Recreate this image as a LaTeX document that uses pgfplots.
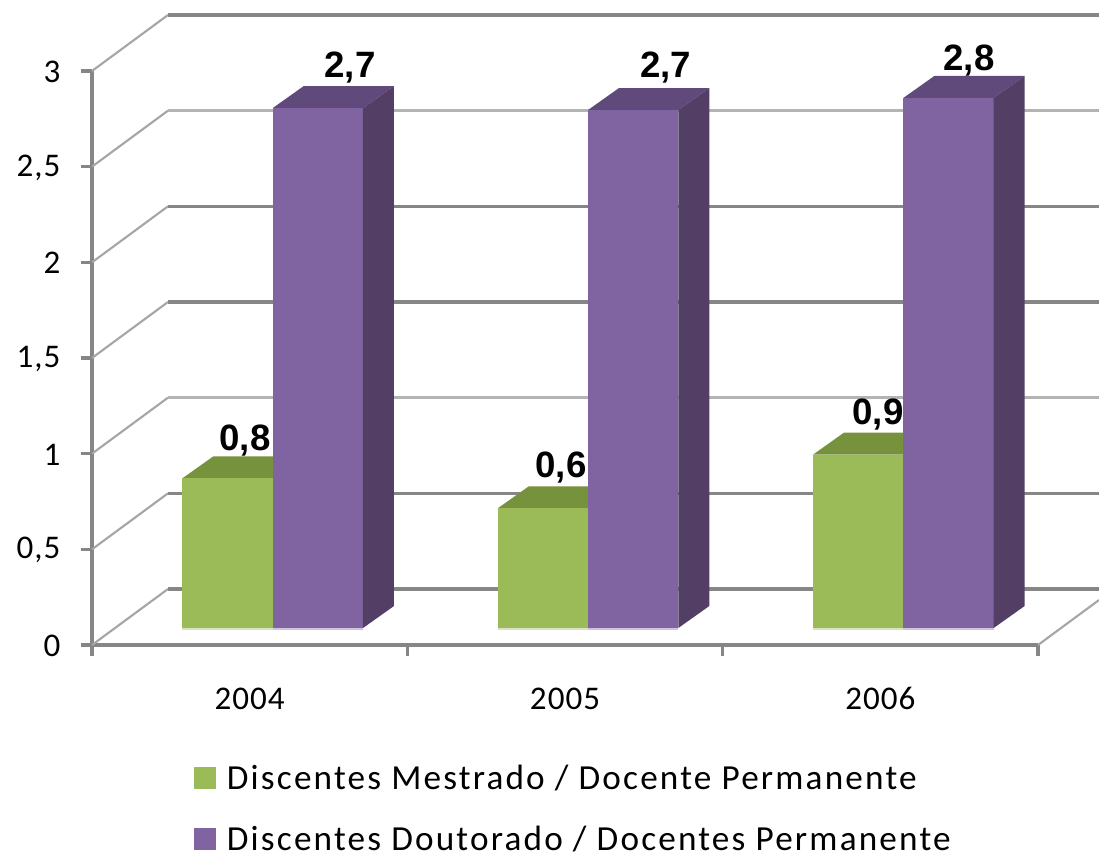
\documentclass[border=0pt]{standalone}
\usepackage{fontspec}
\setmainfont{Carlito}
\newfontfamily\lab{Liberation Sans}
\newfontfamily\leg{Carlito}[LetterSpace=6.2]
\newfontfamily\tk{Carlito}[LetterSpace=3]
\usepackage{pgfplots}
\pgfplotsset{compat=1.18}
\definecolor{gr}{HTML}{9BBB59}
\definecolor{grtop}{HTML}{76923C}
\definecolor{grline}{HTML}{D8E3BF}
\definecolor{pu}{HTML}{8064A2}
\definecolor{putop}{HTML}{604A7B}
\definecolor{puside}{HTML}{533F65}
\definecolor{puline}{HTML}{CFC4DC}
\definecolor{ax}{HTML}{868686}
\definecolor{axl}{HTML}{B4B4B4}
\definecolor{diag}{HTML}{A6A6A6}
% x0 x1 : front-face edges in category units; value; colours
\newcommand{\barfront}[5]{%
  \pgfmathsetmacro\tv{#3+0.0888}%
  \pgfmathsetmacro\bx{#1+0.0983}\pgfmathsetmacro\cx{#2+0.0983}%
  \pgfmathsetmacro\tb{#3+0.0888+0.115}%
  \addplot[fill=#5,draw=none,forget plot,mark=none] coordinates {(#1,\tv)(\bx,\tb)(\cx,\tb)(#2,\tv)} -- cycle;
  \addplot[fill=#4,draw=none,forget plot,mark=none] coordinates {(#1,0.0888)(#1,\tv)(#2,\tv)(#2,0.0888)} -- cycle;
}
\newcommand{\barside}[3]{%
  \pgfmathsetmacro\tv{#2+0.0888}%
  \pgfmathsetmacro\cx{#1+0.0983}%
  \pgfmathsetmacro\tb{#2+0.0888+0.115}%
  \addplot[fill=#3,draw=none,forget plot,mark=none] coordinates {(#1,0.0888)(\cx,0.2038)(\cx,\tb)(#1,\tv)} -- cycle;
}
\newcommand{\wall}[2]{%
  \pgfmathsetmacro\wy{#1+0.2927}%
  \addplot[diag,line width=1.6pt,forget plot,mark=none] coordinates {(0,#1)(0.241,\wy)};
  \addplot[#2,line width=2.6pt,forget plot,mark=none] coordinates {(0.241,\wy)(3.1935,\wy)};
}
\begin{document}
\begin{tikzpicture}[x=1pt,y=1pt]
\useasboundingbox (0,0) rectangle (824.25pt,644.25pt);
\begin{axis}[
  at={(69pt,160.5pt)}, anchor=south west,
  scale only axis, width=709.5pt, height=430.5pt,
  xmin=0, xmax=3, ymin=0, ymax=3, clip=false,
  axis x line*=bottom, axis y line*=left,
  axis line style={ax,line width=2.6pt,-},
  every tick/.style={ax,line width=2.6pt},
  major tick length=8.2pt,
  tick align=outside,
  xtick={0,1,2,3}, x tick label as interval,
  xticklabels={2004,2005,2006},
  ytick={0,0.5,1,1.5,2,2.5,3},
  /pgf/number format/assume math mode=true,
  /pgf/number format/use comma,
  tick label style={font=\tk\fontsize{24.8pt}{28pt}\selectfont,black},
  x tick label style={anchor=base,yshift=-40.5pt},
  y tick label style={xshift=-12pt,yshift=-0.7pt},
  legend style={at={(0.1078,-0.2035)},anchor=north west,draw=none,fill=none,inner sep=0pt,
    font=\leg\fontsize{26.4pt}{30pt}\selectfont,
    row sep=22pt},
  legend cell align=left,
  legend image code/.code={\fill[#1,draw=none] (0pt,-8.5pt) rectangle (16.5pt,8.5pt);\path[draw=none] (0pt,0pt) -- (22.5pt,0pt);},
]
\addlegendimage{gr}\addlegendentry{Discentes Mestrado / Docente Permanente}
\addlegendimage{pu}\addlegendentry{Discentes Doutorado / Docentes Permanente}

\wall{0}{ax}\wall{0.5}{ax}\wall{1}{axl}\wall{1.5}{ax}\wall{2}{ax}\wall{2.5}{axl}\wall{3}{ax}
\addplot[diag,line width=1.6pt,forget plot,mark=none] coordinates {(3,0)(3.1935,0.235)};

% 2004
\barfront{0.2864}{0.5728}{0.782}{gr}{grtop}
\barfront{0.5728}{0.8594}{2.717}{pu}{putop}
\barside{0.8594}{2.717}{puside}
% 2005
\barfront{1.2864}{1.5728}{0.625}{gr}{grtop}
\barfront{1.5728}{1.8594}{2.707}{pu}{putop}
\barside{1.8594}{2.707}{puside}
% 2006
\barfront{2.2864}{2.5728}{0.906}{gr}{grtop}
\barfront{2.5728}{2.8594}{2.770}{pu}{putop}
\barside{2.8594}{2.770}{puside}

\addplot[grline,line width=1pt,forget plot,mark=none] coordinates {(0.2864,0.0840)(0.5728,0.0840)};
\addplot[puline,line width=1pt,forget plot,mark=none] coordinates {(0.5728,0.0840)(0.8594,0.0840)};
\addplot[grline,line width=1pt,forget plot,mark=none] coordinates {(1.2864,0.0840)(1.5728,0.0840)};
\addplot[puline,line width=1pt,forget plot,mark=none] coordinates {(1.5728,0.0840)(1.8594,0.0840)};
\addplot[grline,line width=1pt,forget plot,mark=none] coordinates {(2.2864,0.0840)(2.5728,0.0840)};
\addplot[puline,line width=1pt,forget plot,mark=none] coordinates {(2.5728,0.0840)(2.8594,0.0840)};

\tikzset{vl/.style={font=\lab\bfseries\fontsize{27.5pt}{30pt}\selectfont,inner sep=0pt,text=black,anchor=base}}
\node[vl] at (axis cs:0.4852,1.019) {0,8};
\node[vl] at (axis cs:0.8182,2.965) {2,7};
\node[vl] at (axis cs:1.4873,0.875) {0,6};
\node[vl] at (axis cs:1.8197,2.965) {2,7};
\node[vl] at (axis cs:2.4925,1.155) {0,9};
\node[vl] at (axis cs:2.7810,3.0) {2,8};
\end{axis}
\end{tikzpicture}
\end{document}
